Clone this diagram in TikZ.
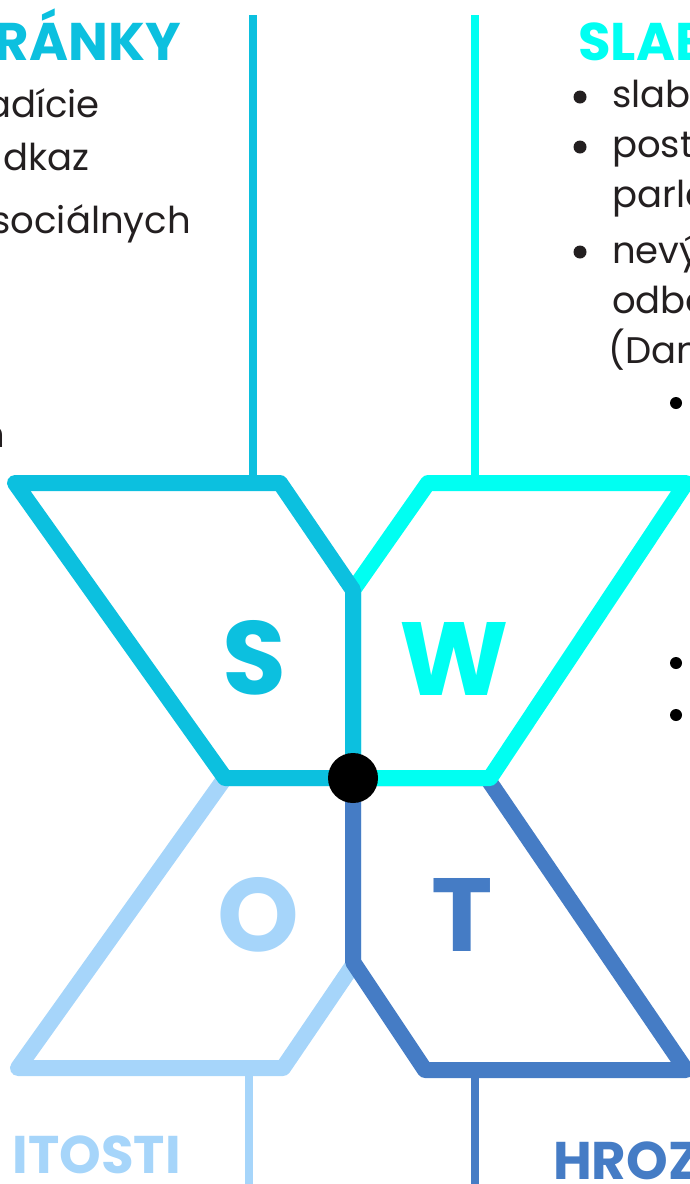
\documentclass[tikz,border=0pt]{standalone}
\usepackage{fontspec}
\setmainfont{Poppins}
\usepackage{xcolor}
\usetikzlibrary{positioning}
\definecolor{SBlue}{RGB}{12,192,223}
\definecolor{WCyan}{RGB}{0,255,242}
\definecolor{OLight}{RGB}{166,213,250}
\definecolor{TBlue}{RGB}{69,124,197}
\definecolor{TextGray}{RGB}{35,31,32}

\begin{document}
\begin{tikzpicture}[x=1pt, y=-1pt,
		frame/.style={line width=16pt, line join=round},
		stem/.style={line width=8pt},
		letter/.style={font=\fontsize{104}{104}\selectfont\bfseries, inner sep=0pt},
		heading/.style={font=\fontsize{53}{53}\selectfont\bfseries, inner sep=0pt},
		item/.style={font=\fontsize{37}{37}\selectfont, text=TextGray, inner sep=0pt}]
		\clip (0,0) rectangle (690,1184);
		% corners of the four quadrants
		\coordinate (M) at (353,778);
		\coordinate (S1) at (15,483);
		\coordinate (S2) at (280,483);
		\coordinate (S3) at (353,590);
		\coordinate (S4) at (225,778);
		\coordinate (W1) at (428,483);
		\coordinate (W2) at (686,483);
		\coordinate (W3) at (490,778);
		\coordinate (O1) at (18,1068);
		\coordinate (O2) at (283,1068);
		\coordinate (O3) at (353,965);
		\coordinate (T1) at (353,962);
		\coordinate (T2) at (425,1070);
		\coordinate (T3) at (686,1070);
		\coordinate (T4) at (487,778);
		% stems
		\draw[stem, SBlue] (253,15) -- (253,483);
		\draw[stem, WCyan] (475,15) -- (475,483);
		\draw[stem, OLight] (249,1068) -- (249,1184);
		\draw[stem, TBlue] (475,1070) -- (475,1184);
		% quadrants
		\draw[frame, OLight] (S4) -- (O1) -- (O2) -- (O3) -- (M) -- cycle;
		\draw[frame, TBlue] (M) -- (T1) -- (T2) -- (T3) -- (T4) -- cycle;
		\draw[frame, WCyan] (S3) -- (W1) -- (W2) -- (W3) -- (M) -- cycle;
		\draw[frame, SBlue] (S1) -- (S2) -- (S3) -- (M) -- (S4) -- cycle;
		\fill (M) circle (25);
		\node[letter, text=SBlue] (S) at (254,658) {S};
		\node[letter, text=WCyan] (W) at (454,659) {W};
		\node[letter, text=OLight] (O) at (258,915) {O};
		\node[letter, text=TBlue] (T) at (462,915) {T};
		% headings
		\node[heading, text=SBlue, anchor=base east] (hS) at (181,60) {RÁNKY};
		\node[heading, text=WCyan, anchor=base west] (hW) at (578,60) {SLAB};
		\node[heading, text=OLight, anchor=base east] (hO) at (181,1173) {ITOSTI};
		\node[heading, text=TBlue, anchor=base west] (hT) at (553,1179) {HROZ};
		% left column
		\node[item, anchor=base east] (s1) at (100,117) {adície};
		\node[item, anchor=base east] (s2) at (90,170) {dkaz};
		\node[item, anchor=base east] (s3) at (191,233) {sociálnych};
		\node[item, anchor=base east] (s4) at (5,447) {n};
		% right column
		\fill[TextGray] (580,97) circle (6.5);
		\fill[TextGray] (580,147) circle (6.5);
		\fill[TextGray] (580,252) circle (6.5);
		\node[item, anchor=base west] (w1) at (612,107) {slaby};
		\node[item, anchor=base west] (w2) at (612,157) {post};
		\node[item, anchor=base west] (w3) at (612,207) {parla};
		\node[item, anchor=base west] (w4) at (612,263) {nevý};
		\node[item, anchor=base west] (w5) at (612,313) {odbo};
		\node[item, anchor=base west] (w6) at (608,363) {(Dan};
		\fill (676,403) circle (6);
		\fill (676,663) circle (6);
		\fill (676,715) circle (6);
\end{tikzpicture}
\end{document}
